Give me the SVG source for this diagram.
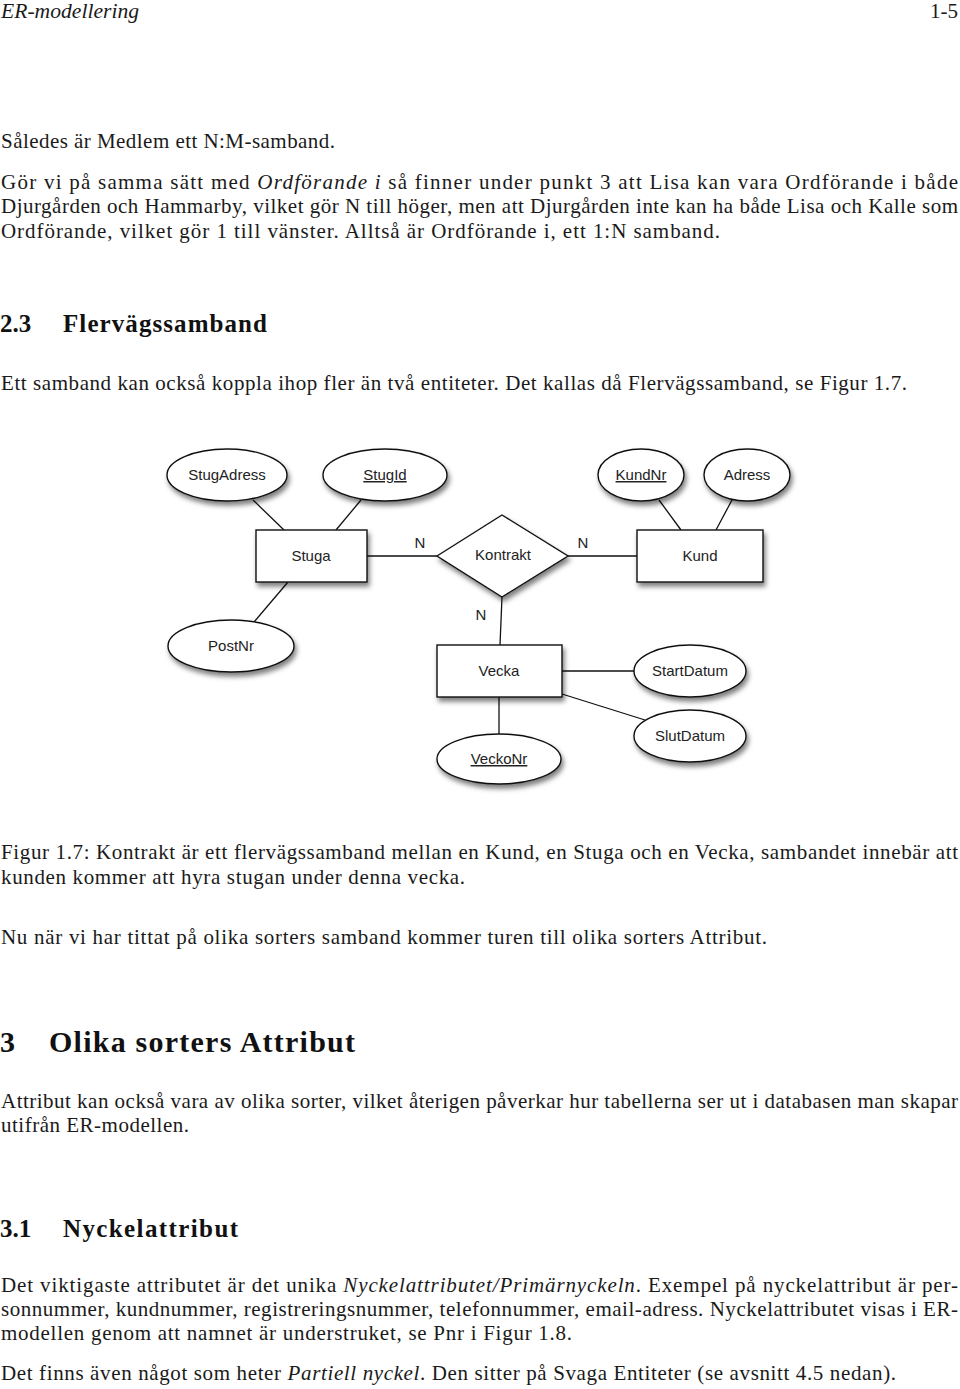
<svg xmlns="http://www.w3.org/2000/svg" width="960" height="1389" viewBox="0 0 960 1389">
<style>
.body{font-family:"Liberation Serif","Times New Roman",serif;font-size:21px;fill:#1a1a1a}
.it{font-style:italic}
.h2{font-family:"Liberation Serif","Times New Roman",serif;font-size:25px;font-weight:bold;fill:#111}
.h1{font-family:"Liberation Serif","Times New Roman",serif;font-size:30px;font-weight:bold;fill:#111}
.shape{fill:#fff;stroke:#111;stroke-width:1.4}
.lbl{font-family:"Liberation Sans",Arial,sans-serif;font-size:15px;fill:#222;text-anchor:middle}
.key{text-decoration:underline}
.conn line{stroke:#111;stroke-width:1.3}
</style>
<defs>
<filter id="sh" x="-20%" y="-20%" width="150%" height="160%">
<feDropShadow dx="2" dy="4" stdDeviation="2.5" flood-color="#000" flood-opacity="0.5"/>
</filter>
</defs>
<rect width="960" height="1389" fill="#fff"/>

<!-- page text -->
<text class="body it" x="1" y="18" textLength="138" lengthAdjust="spacingAndGlyphs">ER-modellering</text>
<text class="body" x="958" y="18" text-anchor="end">1-5</text>

<text class="body" x="1" y="148" textLength="334" lengthAdjust="spacing">Således är Medlem ett N:M-samband.</text>
<text class="body" x="1" y="189" textLength="957" lengthAdjust="spacing">Gör vi på samma sätt med <tspan class="it">Ordförande i</tspan> så finner under punkt 3 att Lisa kan vara Ordförande i både</text>
<text class="body" x="1" y="213" textLength="957" lengthAdjust="spacing">Djurgården och Hammarby, vilket gör N till höger, men att Djurgården inte kan ha både Lisa och Kalle som</text>
<text class="body" x="1" y="238" textLength="719" lengthAdjust="spacing">Ordförande, vilket gör 1 till vänster. Alltså är Ordförande i, ett 1:N samband.</text>

<text class="h2" x="0" y="332">2.3</text>
<text class="h2" x="63" y="332" textLength="204" lengthAdjust="spacing">Flervägssamband</text>
<text class="body" x="1" y="390" textLength="906" lengthAdjust="spacing">Ett samband kan också koppla ihop fler än två entiteter. Det kallas då Flervägssamband, se Figur 1.7.</text>

<!-- diagram -->
<g class="conn" id="connectors">
<line x1="253" y1="500" x2="284" y2="530"/>
<line x1="361" y1="500" x2="336" y2="530"/>
<line x1="367" y1="556" x2="437" y2="556"/>
<line x1="568" y1="556" x2="637" y2="556"/>
<line x1="659" y1="500" x2="681" y2="530"/>
<line x1="732" y1="500" x2="716" y2="530"/>
<line x1="288" y1="582" x2="254" y2="622"/>
<line x1="502" y1="597" x2="500" y2="645"/>
<line x1="562" y1="671" x2="634" y2="671"/>
<line x1="562" y1="694" x2="645" y2="720"/>
<line x1="499" y1="697" x2="499" y2="734"/>
<text class="lbl" x="420" y="548">N</text>
<text class="lbl" x="583" y="548">N</text>
<text class="lbl" x="481" y="620">N</text>
</g>

<g id="StugAdress"><ellipse class="shape" filter="url(#sh)" cx="227" cy="475" rx="60" ry="26"/><text class="lbl" x="227" y="480">StugAdress</text></g>
<g id="StugId"><ellipse class="shape" filter="url(#sh)" cx="385" cy="475" rx="62" ry="26"/><text class="lbl key" x="385" y="480">StugId</text></g>
<g id="KundNr"><ellipse class="shape" filter="url(#sh)" cx="641" cy="475" rx="43" ry="26"/><text class="lbl key" x="641" y="480">KundNr</text></g>
<g id="Adress"><ellipse class="shape" filter="url(#sh)" cx="747" cy="475" rx="43" ry="26"/><text class="lbl" x="747" y="480">Adress</text></g>
<g id="Stuga"><rect class="shape" filter="url(#sh)" x="256" y="530" width="111" height="52"/><text class="lbl" x="311" y="561">Stuga</text></g>
<g id="Kontrakt"><polygon class="shape" filter="url(#sh)" points="437,556 502,515 568,556 502,597"/><text class="lbl" x="503" y="560">Kontrakt</text></g>
<g id="Kund"><rect class="shape" filter="url(#sh)" x="637" y="530" width="126" height="52"/><text class="lbl" x="700" y="561">Kund</text></g>
<g id="PostNr"><ellipse class="shape" filter="url(#sh)" cx="231" cy="646" rx="63" ry="26"/><text class="lbl" x="231" y="651">PostNr</text></g>
<g id="Vecka"><rect class="shape" filter="url(#sh)" x="437" y="645" width="125" height="52"/><text class="lbl" x="499" y="676">Vecka</text></g>
<g id="StartDatum"><ellipse class="shape" filter="url(#sh)" cx="690" cy="671" rx="56" ry="26"/><text class="lbl" x="690" y="676">StartDatum</text></g>
<g id="SlutDatum"><ellipse class="shape" filter="url(#sh)" cx="690" cy="736" rx="56" ry="26"/><text class="lbl" x="690" y="741">SlutDatum</text></g>
<g id="VeckoNr"><ellipse class="shape" filter="url(#sh)" cx="499" cy="759" rx="62" ry="25"/><text class="lbl key" x="499" y="764">VeckoNr</text></g>

<!-- caption and following text -->
<text class="body" x="1" y="859" textLength="957" lengthAdjust="spacing">Figur 1.7: Kontrakt är ett flervägssamband mellan en Kund, en Stuga och en Vecka, sambandet innebär att</text>
<text class="body" x="1" y="884" textLength="464" lengthAdjust="spacing">kunden kommer att hyra stugan under denna vecka.</text>
<text class="body" x="1" y="944" textLength="766" lengthAdjust="spacing">Nu när vi har tittat på olika sorters samband kommer turen till olika sorters Attribut.</text>

<text class="h1" x="0" y="1052">3</text>
<text class="h1" x="49" y="1052" textLength="306" lengthAdjust="spacing">Olika sorters Attribut</text>
<text class="body" x="1" y="1108" textLength="957" lengthAdjust="spacing">Attribut kan också vara av olika sorter, vilket återigen påverkar hur tabellerna ser ut i databasen man skapar</text>
<text class="body" x="1" y="1132" textLength="188" lengthAdjust="spacing">utifrån ER-modellen.</text>

<text class="h2" x="0" y="1237">3.1</text>
<text class="h2" x="63" y="1237" textLength="175" lengthAdjust="spacing">Nyckelattribut</text>
<text class="body" x="1" y="1292" textLength="957" lengthAdjust="spacing">Det viktigaste attributet är det unika <tspan class="it">Nyckelattributet/Primärnyckeln</tspan>. Exempel på nyckelattribut är per-</text>
<text class="body" x="1" y="1316" textLength="957" lengthAdjust="spacing">sonnummer, kundnummer, registreringsnummer, telefonnummer, email-adress. Nyckelattributet visas i ER-</text>
<text class="body" x="1" y="1340" textLength="571" lengthAdjust="spacing">modellen genom att namnet är understruket, se Pnr i Figur 1.8.</text>
<text class="body" x="1" y="1380" textLength="895" lengthAdjust="spacing">Det finns även något som heter <tspan class="it">Partiell nyckel</tspan>. Den sitter på Svaga Entiteter (se avsnitt 4.5 nedan).</text>
</svg>
